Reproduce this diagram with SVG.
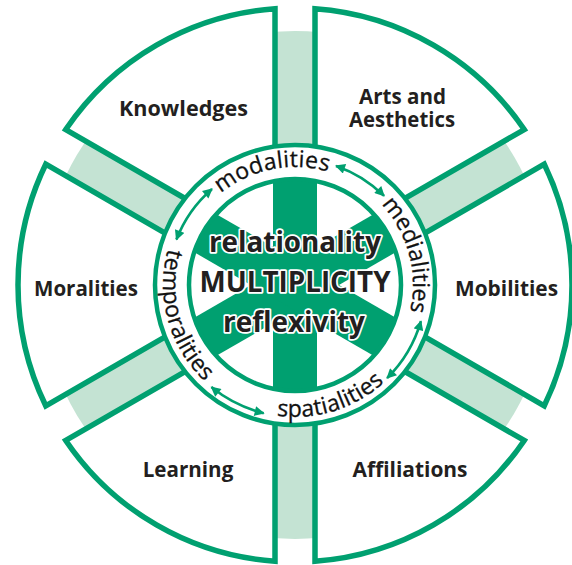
<svg xmlns="http://www.w3.org/2000/svg" width="572" height="565" viewBox="0 0 572 565">
  <style>
    .sector { fill: #ffffff; stroke: #00a070; stroke-width: 5.5; stroke-linejoin: miter; }
    .label { font-family: "Open Sans", "Noto Sans", sans-serif; font-weight: 700; font-size: 22px; fill: #231f20; text-anchor: middle; }
    .ring { font-family: "Open Sans", "Noto Sans", sans-serif; font-weight: 400; font-size: 23px; fill: #111111; stroke: #111111; stroke-width: 0.3; }
    .core { font-family: "Open Sans", "Noto Sans", sans-serif; font-weight: 700; font-size: 28px; fill: #231f20; text-anchor: middle; stroke: #ffffff; stroke-width: 3.5; paint-order: stroke; stroke-linejoin: round; }
    .arrow { fill: none; stroke: #00a070; stroke-width: 2.6; marker-start: url(#head); marker-end: url(#head); }
  </style>
  <defs>
    <marker id="head" viewBox="0 0 10 10" refX="9" refY="5" markerWidth="11" markerHeight="10" markerUnits="userSpaceOnUse" orient="auto-start-reverse">
      <path d="M0,0 L10,5 L0,10 Z" fill="#00a070"/>
    </marker>
    <clipPath id="disk"><circle cx="295" cy="285" r="106"/></clipPath>
    <path id="cw" d="M 177 285 A 118 118 0 0 1 413 285 A 118 118 0 0 1 295 403"/>
    <path id="ccw" d="M 295 153 A 132 132 0 0 0 163 285 A 132 132 0 0 0 295 417 A 132 132 0 0 0 427 285"/>
  </defs>

  <rect width="572" height="565" fill="#ffffff"/>
  <circle id="band" cx="295" cy="285" r="254" fill="#c4e3d3"/>

  <g id="knowledges">
    <path class="sector" d="M 275 156.55 L 275 8.72 A 277 277 0 0 0 65.74 129.54 L 193.76 203.45 Z"/>
    <text class="label" x="183.5" y="116" textLength="129" lengthAdjust="spacingAndGlyphs">Knowledges</text>
  </g>
  <g id="arts">
    <path class="sector" d="M 396.24 203.45 L 524.26 129.54 A 277 277 0 0 0 315 8.72 L 315 156.55 Z"/>
    <text class="label" x="402.5" y="104" textLength="87" lengthAdjust="spacingAndGlyphs">Arts and</text>
    <text class="label" x="402" y="126.5" textLength="106" lengthAdjust="spacingAndGlyphs">Aesthetics</text>
  </g>
  <g id="moralities">
    <path class="sector" d="M 173.76 238.09 L 45.74 164.18 A 277 277 0 0 0 45.74 405.82 L 173.76 331.91 Z"/>
    <text class="label" x="86" y="295.5" textLength="104" lengthAdjust="spacingAndGlyphs">Moralities</text>
  </g>
  <g id="mobilities">
    <path class="sector" d="M 416.24 331.91 L 544.26 405.82 A 277 277 0 0 0 544.26 164.18 L 416.24 238.09 Z"/>
    <text class="label" x="506.5" y="295.5" textLength="103" lengthAdjust="spacingAndGlyphs">Mobilities</text>
  </g>
  <g id="learning">
    <path class="sector" d="M 193.76 366.55 L 65.74 440.46 A 277 277 0 0 0 275 561.28 L 275 413.45 Z"/>
    <text class="label" x="188" y="476.5" textLength="90.5" lengthAdjust="spacingAndGlyphs">Learning</text>
  </g>
  <g id="affiliations">
    <path class="sector" d="M 315 413.45 L 315 561.28 A 277 277 0 0 0 524.26 440.46 L 396.24 366.55 Z"/>
    <text class="label" x="410" y="476.5" textLength="115" lengthAdjust="spacingAndGlyphs">Affiliations</text>
  </g>

  <g id="ring">
    <circle cx="295" cy="285" r="140" fill="#ffffff" stroke="#00a070" stroke-width="4.5"/>
    <text class="ring" letter-spacing="0.25"><textPath href="#cw" startOffset="162" text-anchor="middle">modalities</textPath></text>
    <text class="ring" letter-spacing="-0.1"><textPath href="#cw" startOffset="339.5" text-anchor="middle">medialities</textPath></text>
    <text class="ring" letter-spacing="0.25"><textPath href="#ccw" startOffset="243" text-anchor="middle">temporalities</textPath></text>
    <text class="ring" letter-spacing="0.2"><textPath href="#ccw" startOffset="454.5" text-anchor="middle">spatialities</textPath></text>
  </g>

  <g id="core">
    <circle cx="295" cy="285" r="106" fill="#ffffff"/>
    <g clip-path="url(#disk)" fill="#00a070">
      <rect x="273" y="170" width="44" height="230"/>
      <rect x="273" y="170" width="44" height="230" transform="rotate(60 295 285)"/>
      <rect x="273" y="170" width="44" height="230" transform="rotate(-60 295 285)"/>
    </g>
    <circle cx="295" cy="285" r="106" fill="none" stroke="#00a070" stroke-width="4.5"/>
    <text class="core" x="295" y="252" textLength="172" lengthAdjust="spacingAndGlyphs">relationality</text>
    <text class="core" x="295" y="292" textLength="191" lengthAdjust="spacingAndGlyphs">MULTIPLICITY</text>
    <text class="core" x="294" y="332" textLength="142" lengthAdjust="spacingAndGlyphs">reflexivity</text>
  </g>

  <g id="connectors">
    <path class="arrow" d="M 336.0 165.9 A 126 126 0 0 1 384.1 195.9"/>
    <path class="arrow" d="M 420.9 321.1 A 131 131 0 0 1 387.1 378.1"/>
    <path class="arrow" d="M 263.7 413.2 A 132 132 0 0 1 211.4 387.1"/>
    <path class="arrow" d="M 176.4 239.5 A 127 127 0 0 1 212.0 188.9"/>
  </g>
</svg>
